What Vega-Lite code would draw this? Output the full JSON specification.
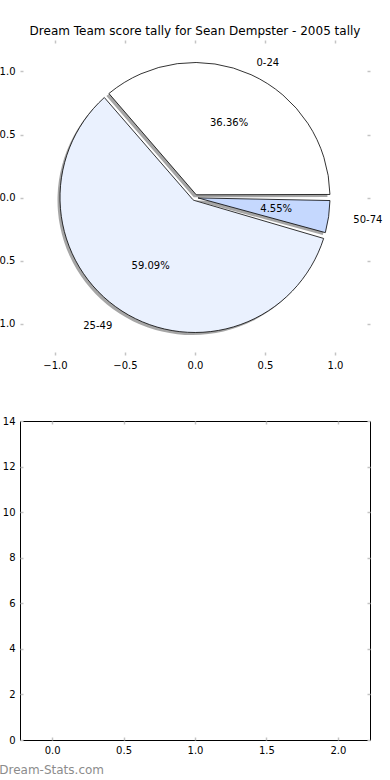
{
  "$schema": "https://vega.github.io/schema/vega-lite/v6.json",
  "autosize": {"type": "none"},
  "padding": {"left": 20, "top": 40, "right": 370, "bottom": 740},
  "background": "white",
  "bounds": "flush",
  "spacing": 66,
  "data": {"values": [
    {"range": "0-24", "count": 8, "pct": "36.36%"},
    {"range": "25-49", "count": 13, "pct": "59.09%"},
    {"range": "50-74", "count": 1, "pct": "4.55%"}
  ]},
  "config": {
    "font": "DejaVu Sans",
    "view": {"stroke": null},
    "axis": {
      "labelFont": "DejaVu Sans", "labelFontSize": 10, "labelColor": "#000000",
      "tickColor": "#c4c4c4", "tickWidth": 1.5, "tickSize": -3, "labelPadding": 8,
      "domain": false, "grid": false, "title": null
    },
    "title": {"font": "DejaVu Sans", "fontWeight": "normal", "color": "#000000"}
  },
  "vconcat": [
    {
      "width": 350,
      "height": 315,
      "title": {"text": "Dream Team score tally for Sean Dempster - 2005 tally", "fontSize": 12, "offset": 1, "anchor": "middle"},
      "layer": [
        {
          "mark": {"type": "point", "opacity": 0},
          "encoding": {
            "x": {"datum": 0, "type": "quantitative", "scale": {"domain": [-1.25, 1.25], "nice": false, "zero": false},
                  "axis": {"orient": "bottom", "values": [-1, -0.5, 0, 0.5, 1], "format": ".1f", "title": null}},
            "y": {"datum": 0, "type": "quantitative", "scale": {"domain": [-1.25, 1.25], "nice": false, "zero": false},
                  "axis": {"orient": "left", "values": [-1, -0.5, 0, 0.5, 1], "format": ".1f", "title": null}}
          }
        },
        {
          "mark": {"type": "point", "opacity": 0},
          "encoding": {
            "x": {"datum": 0, "type": "quantitative",
                  "axis": {"orient": "top", "values": [-1, -0.5, 0, 0.5, 1], "labels": false, "title": null}},
            "y": {"datum": 0, "type": "quantitative",
                  "axis": {"orient": "right", "values": [-1, -0.5, 0, 0.5, 1], "labels": false, "title": null}}
          }
        },
        {
          "mark": {"type": "arc", "radius": 135, "radius2": 3, "padAngle": 0.045, "fill": "#4d4d4d", "fillOpacity": 0.5, "xOffset": -2.5, "yOffset": 2.5},
          "encoding": {
            "theta": {"field": "count", "type": "quantitative", "stack": true, "scale": {"range": [1.5708, 7.854]}},
            "order": {"field": "range", "sort": "descending"}
          }
        },
        {
          "mark": {"type": "arc", "radius": 135, "radius2": 3, "padAngle": 0.045, "stroke": "#000000", "strokeWidth": 0.8},
          "encoding": {
            "theta": {"field": "count", "type": "quantitative", "stack": true},
            "order": {"field": "range", "sort": "descending"},
            "color": {"field": "range", "type": "nominal", "legend": null,
                      "scale": {"domain": ["0-24", "25-49", "50-74"], "range": ["#ffffff", "#eaf1fe", "#c5d8fe"]}}
          }
        },
        {
          "mark": {"type": "text", "radius": 82, "fontSize": 10, "font": "DejaVu Sans", "color": "#000000"},
          "encoding": {
            "theta": {"field": "count", "type": "quantitative", "stack": true},
            "order": {"field": "range", "sort": "descending"},
            "text": {"field": "pct"}
          }
        },
        {
          "mark": {"type": "text", "radius": 148, "align": "left", "baseline": "middle", "fontSize": 10, "font": "DejaVu Sans", "color": "#000000"},
          "encoding": {
            "theta": {"field": "count", "type": "quantitative", "stack": true},
            "order": {"field": "range", "sort": "descending"},
            "text": {"condition": {"test": "datum.range === '0-24'", "field": "range"}, "value": ""}
          }
        },
        {
          "mark": {"type": "text", "radius": 153, "align": "right", "baseline": "middle", "fontSize": 10, "font": "DejaVu Sans", "color": "#000000"},
          "encoding": {
            "theta": {"field": "count", "type": "quantitative", "stack": true},
            "order": {"field": "range", "sort": "descending"},
            "text": {"condition": {"test": "datum.range === '25-49'", "field": "range"}, "value": ""}
          }
        },
        {
          "mark": {"type": "text", "radius": 160, "align": "left", "baseline": "middle", "fontSize": 10, "font": "DejaVu Sans", "color": "#000000"},
          "encoding": {
            "theta": {"field": "count", "type": "quantitative", "stack": true},
            "order": {"field": "range", "sort": "descending"},
            "text": {"condition": {"test": "datum.range === '50-74'", "field": "range"}, "value": ""}
          }
        }
      ],
      "resolve": {"axis": {"x": "independent", "y": "independent"}}
    },
    {
      "width": 350,
      "height": 319,
      "view": {"stroke": "#000000", "strokeWidth": 1},
      "title": {"text": "Dream-Stats.com", "orient": "bottom", "anchor": "start", "fontSize": 12, "color": "#8c8c8c", "dx": -3, "offset": 10},
      "layer": [
        {
          "mark": {"type": "point", "opacity": 0},
          "encoding": {
            "x": {"datum": 0, "type": "quantitative", "scale": {"domain": [-0.225, 2.225], "nice": false, "zero": false},
                  "axis": {"orient": "bottom", "values": [0, 0.5, 1, 1.5, 2], "format": ".1f", "title": null}},
            "y": {"datum": 0, "type": "quantitative", "scale": {"domain": [0, 14], "nice": false},
                  "axis": {"orient": "left", "values": [0, 2, 4, 6, 8, 10, 12, 14], "format": "d", "title": null}}
          }
        },
        {
          "mark": {"type": "point", "opacity": 0},
          "encoding": {
            "x": {"datum": 0, "type": "quantitative",
                  "axis": {"orient": "top", "values": [0, 0.5, 1, 1.5, 2], "labels": false, "title": null}},
            "y": {"datum": 0, "type": "quantitative",
                  "axis": {"orient": "right", "values": [0, 2, 4, 6, 8, 10, 12, 14], "labels": false, "title": null}}
          }
        }
      ],
      "resolve": {"axis": {"x": "independent", "y": "independent"}}
    }
  ]
}
